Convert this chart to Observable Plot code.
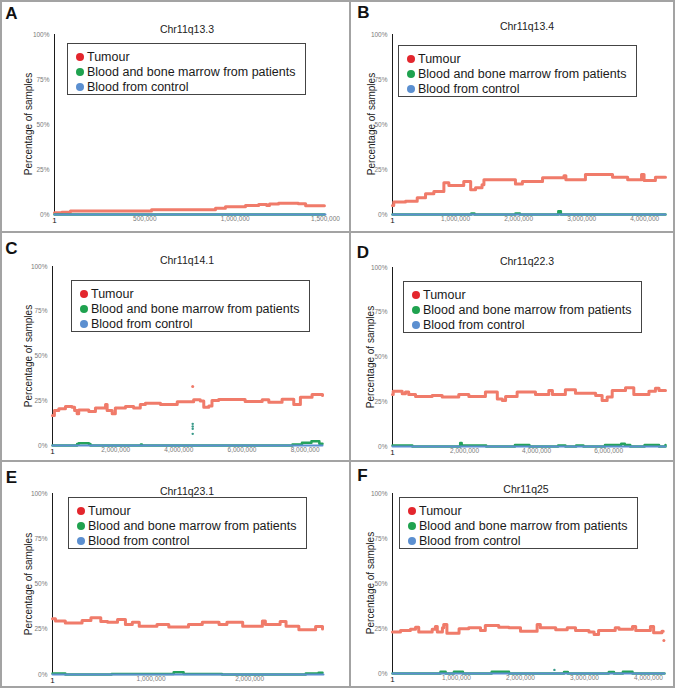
<!DOCTYPE html>
<html>
<head>
<meta charset="utf-8">
<script src="https://cdn.jsdelivr.net/npm/d3@7"></script>
<script src="https://cdn.jsdelivr.net/npm/@observablehq/plot@0.6"></script>
<style>
  body { margin: 0; background: #fff; font-family: "Liberation Sans", Arial, sans-serif; }
  #fig { position: relative; width: 675px; height: 688px; background: #fff; overflow: hidden; }
  .abs { position: absolute; }
  .letter { font-weight: bold; font-size: 17px; color: #111; transform: translate(-50%, -50%); }
  .title { font-size: 10.5px; color: #222; transform: translate(-50%, -50%); white-space: nowrap; }
  .ylab { font-size: 10px; color: #222; transform: translate(-50%, -50%) rotate(-90deg); white-space: nowrap; }
  .legend { border: 1px solid #444; background: #fff; box-sizing: border-box; width: 239px; height: 52px; }
  .li { position: absolute; left: 0; font-size: 12.5px; color: #1a1a1a; white-space: nowrap; }
  .li span.dot { position: absolute; left: 8px; width: 8px; height: 8px; border-radius: 50%; top: 50%; transform: translateY(-50%); }
  .li span.txt { position: absolute; left: 19px; top: 50%; transform: translateY(-52%); }
</style>
</head>
<body>
<div id="fig"></div>
<script>
// ---------- data ----------
const panelLetters = ["A", "B", "C", "D", "E", "F"];
const panelTitles = ["Chr11q13.3", "Chr11q13.4", "Chr11q14.1", "Chr11q22.3", "Chr11q23.1", "Chr11q25"];
const legendLabels = ["Tumour", "Blood and bone marrow from patients", "Blood from control"];
const yTicks = [0, 25, 50, 75, 100];
const xMaxes = [1500000, 4330000, 8550000, 7580000, 2750000, 4250000];
const xTicksA = [500000, 1000000, 1500000];
const xTicksB = [1000000, 2000000, 3000000, 4000000];
const xTicksC = [2000000, 4000000, 6000000, 8000000];
const xTicksD = [2000000, 4000000, 6000000];
const xTicksE = [1000000, 2000000];
const xTicksF = [1000000, 2000000, 3000000, 4000000];

// Panel A
const tumourPosA = [1, 40000, 88000, 537000, 891000, 946000, 1057000, 1130000, 1175000, 1190000, 1240000, 1350000, 1390000, 1494000];
const tumourPctA = [1.0, 1.3, 2.0, 2.7, 3.5, 4.3, 5.0, 5.6, 5.0, 5.8, 6.3, 6.0, 4.8, 4.8];
const bloodPosA = [1, 1494000];
const bloodPctA = [0, 0];

// Panel B
const tumourPosB = [1, 20000, 206000, 392000, 524000, 656000, 815000, 894000, 1130000, 1240000, 1317000, 1420000, 1450000, 1950000, 2060000, 2380000, 2720000, 2750000, 3060000, 3490000, 3730000, 3950000, 3990000, 4170000, 4330000];
const tumourPctB = [5.0, 6.9, 7.4, 9.3, 11.5, 12.8, 17.6, 16.1, 18.3, 13.7, 14.8, 16.5, 19.3, 17.0, 18.3, 20.4, 21.5, 19.3, 22.2, 20.7, 19.3, 22.2, 18.9, 20.7, 20.7];
const bloodPosB = [1, 1250000, 1300000, 1950000, 2020000, 2630000, 2670000, 4330000];
const bloodPctB = [0, 0.5, 0, 0.5, 0, 1.8, 0, 0];

// Panel C
const tumourPosC = [1, 60000, 200000, 410000, 620000, 700000, 780000, 830000, 1150000, 1360000, 1680000, 1730000, 1890000, 1990000, 2310000, 2570000, 2780000, 2940000, 3420000, 3950000, 4470000, 4680000, 4790000, 4950000, 5050000, 5260000, 6100000, 6640000, 6850000, 7270000, 7640000, 7850000, 8220000, 8550000];
const tumourPctC = [16.8, 19.6, 20.5, 21.8, 21.4, 19.6, 17.7, 19.9, 19.0, 20.9, 22.9, 19.6, 17.7, 21.0, 21.8, 20.9, 22.9, 23.6, 22.9, 24.4, 25.5, 24.8, 21.4, 22.0, 25.1, 25.7, 24.6, 25.5, 24.2, 25.9, 22.9, 27.0, 28.5, 28.0];
const tumourOutPosC = [4440000];
const tumourOutPctC = [33.0];
const bloodPosC = [1, 780000, 830000, 1150000, 1200000, 2800000, 2830000, 7600000, 7900000, 8200000, 8450000, 8550000];
const bloodPctC = [0, 0.8, 1.2, 0.8, 0, 0.6, 0, 0.5, 1.5, 2.4, 1.0, 1.0];
const bloodOutPosC = [4440000, 4440000, 4440000, 4440000];
const bloodOutPctC = [12.1, 10.6, 9.3, 6.5];

// Panel D
const tumourPosD = [1, 20000, 270000, 360000, 450000, 640000, 1100000, 1380000, 1840000, 2120000, 2580000, 2910000, 3050000, 3140000, 3460000, 3970000, 4340000, 4440000, 4800000, 5080000, 5640000, 5820000, 5960000, 6100000, 6470000, 6700000, 7120000, 7300000, 7400000, 7580000];
const tumourPctD = [29.1, 30.9, 29.4, 30.4, 29.1, 27.9, 28.5, 27.6, 29.1, 27.9, 30.4, 26.6, 25.7, 27.9, 30.4, 29.1, 31.3, 29.1, 31.7, 29.8, 28.5, 25.7, 27.6, 31.3, 32.8, 29.1, 30.9, 32.6, 31.3, 31.3];
const bloodPosD = [1, 550000, 1880000, 1920000, 2600000, 3400000, 3800000, 4600000, 4800000, 5100000, 5300000, 5900000, 6350000, 6450000, 6600000, 7000000, 7400000, 7580000];
const bloodPctD = [0.6, 0, 2.0, 0.6, 0, 0.8, 0, 0.5, 0, 0.5, 0, 0.8, 1.5, 0.8, 0, 0.8, 0, 0.8];

// Panel E
const tumourPosE = [1, 30000, 130000, 300000, 390000, 490000, 560000, 660000, 740000, 810000, 880000, 1060000, 1180000, 1380000, 1520000, 1690000, 1770000, 1930000, 2130000, 2160000, 2310000, 2370000, 2500000, 2670000, 2740000];
const tumourPctE = [30.8, 29.5, 28.5, 29.8, 31.3, 29.3, 28.9, 30.4, 27.6, 28.9, 26.7, 27.6, 26.2, 27.6, 28.9, 27.6, 28.9, 26.7, 29.5, 27.6, 29.3, 26.7, 24.7, 26.5, 25.2];
const bloodPosE = [1, 130000, 600000, 1230000, 1330000, 1720000, 2570000, 2700000, 2740000];
const bloodPctE = [0.5, 0, 0.3, 1.2, 0.3, 0, 0.5, 1.0, 1.0];

// Panel F
const tumourPosF = [1, 125000, 280000, 360000, 410000, 620000, 670000, 700000, 780000, 800000, 850000, 1040000, 1190000, 1375000, 1450000, 1660000, 1820000, 2000000, 2260000, 2310000, 2550000, 2730000, 2860000, 3070000, 3150000, 3220000, 3480000, 3540000, 3750000, 3800000, 4030000, 4080000, 4210000, 4230000];
const tumourPctF = [23.0, 23.9, 24.6, 25.7, 23.0, 24.6, 26.1, 23.0, 25.4, 27.2, 22.4, 24.8, 25.4, 23.9, 26.7, 25.7, 25.4, 23.5, 27.2, 25.4, 24.3, 25.4, 23.9, 23.0, 21.7, 23.9, 25.4, 24.6, 26.1, 23.9, 26.1, 22.6, 23.5, 23.5];
const tumourOutPosF = [4240000];
const tumourOutPctF = [18.4];
const bloodPosF = [1, 750000, 830000, 960000, 1100000, 1550000, 1820000, 2680000, 2740000, 3380000, 3460000, 3600000, 3750000, 4250000];
const bloodPctF = [0, 1.0, 0, 1.0, 0, 1.0, 0, 0.8, 0, 0.8, 0, 1.0, 0, 0];
const bloodOutPosF = [2530000];
const bloodOutPctF = [2.0];

// ---------- layout ----------
const colors = { tumour: "#f07b6a", blood: "#25a25a", control: "#5b8fd0" };
const legendDot = ["#e3262d", "#1fa24f", "#5b8fd0"];

const fig = document.getElementById("fig");
function addDiv(cls, left, top, text, extra) {
  const d = document.createElement("div");
  d.className = "abs " + cls;
  d.style.left = left + "px";
  d.style.top = top + "px";
  if (text != null) d.textContent = text;
  if (extra) Object.assign(d.style, extra);
  fig.appendChild(d);
  return d;
}

// borders
addDiv("", 0, 0, null, { width: "675px", height: "688px", border: "2px solid #a3a3a3", boxSizing: "border-box" });
addDiv("", 349, 0, null, { width: "2px", height: "688px", background: "#a3a3a3" });
addDiv("", 0, 231, null, { width: "675px", height: "2px", background: "#a3a3a3" });
addDiv("", 0, 460, null, { width: "675px", height: "2px", background: "#a3a3a3" });

const panels = [
  { box: [2, 2, 346, 228], frame: [54, 325, 34, 214], xTicks: xTicksA,
    tPos: tumourPosA, tPct: tumourPctA, bPos: bloodPosA, bPct: bloodPctA,
    letter: [11.5, 14], title: [187, 28.5], ylab: [27.5, 124], legend: [67, 43] },
  { box: [351, 2, 322, 228], frame: [392, 665, 34, 214], xTicks: xTicksB,
    tPos: tumourPosB, tPct: tumourPctB, bPos: bloodPosB, bPct: bloodPctB,
    letter: [363.5, 12.5], title: [527, 25.5], ylab: [371, 124], legend: [398, 45] },
  { box: [2, 233, 346, 227], frame: [52, 322, 266, 445], xTicks: xTicksC,
    tPos: tumourPosC, tPct: tumourPctC, bPos: bloodPosC, bPct: bloodPctC,
    tOutPos: tumourOutPosC, tOutPct: tumourOutPctC, bOutPos: bloodOutPosC, bOutPct: bloodOutPctC,
    letter: [11.5, 249], title: [187, 260], ylab: [28, 355.5], legend: [71, 280] },
  { box: [351, 233, 322, 227], frame: [392, 665, 267, 446], xTicks: xTicksD,
    tPos: tumourPosD, tPct: tumourPctD, bPos: bloodPosD, bPct: bloodPctD,
    letter: [363, 253], title: [527, 261], ylab: [370, 356.5], legend: [403, 281] },
  { box: [2, 462, 346, 224], frame: [52, 323, 493, 674], xTicks: xTicksE,
    tPos: tumourPosE, tPct: tumourPctE, bPos: bloodPosE, bPct: bloodPctE,
    letter: [11.5, 477.5], title: [187, 491], ylab: [28, 583.5], legend: [68, 497] },
  { box: [351, 462, 322, 224], frame: [392, 664, 493, 673], xTicks: xTicksF,
    tPos: tumourPosF, tPct: tumourPctF, bPos: bloodPosF, bPct: bloodPctF,
    tOutPos: tumourOutPosF, tOutPct: tumourOutPctF, bOutPos: bloodOutPosF, bOutPct: bloodOutPctF,
    letter: [362.5, 476], title: [526, 489], ylab: [370, 583], legend: [399, 497] }
];

const fmt = d3.format(",");

panels.forEach((p, i) => {
  const [bl, bt, bw, bh] = p.box;
  const [fx0, fx1, fy0, fy1] = p.frame;
  const xMax = xMaxes[i];
  const marks = [
    Plot.axisY(yTicks, { tickSize: 0, tickPadding: 5, tickFormat: d => d + "%", fontSize: 6.5, label: null }),
    Plot.axisX(p.xTicks, { tickSize: 0, tickPadding: 2, tickFormat: d => fmt(d), fontSize: 6.5, label: null }),
    Plot.axisX([1], { tickSize: 0, tickPadding: 3, tickFormat: () => "1", fontSize: 8, fill: "#111", label: null }),
    Plot.ruleX([0], { stroke: "#1a1a1a", strokeWidth: 1 }),
    Plot.line(p.tPos, { x: p.tPos, y: p.tPct, curve: "step-after", stroke: colors.tumour, strokeWidth: 3 }),
    Plot.line(p.bPos, { x: p.bPos, y: p.bPct, curve: "step-after", stroke: colors.blood, strokeWidth: 2.5 }),
    Plot.line([1, xMax], { x: [1, xMax], y: [0, 0], stroke: colors.control, strokeWidth: 2 })
  ];
  if (p.tOutPos) marks.push(Plot.dot(p.tOutPos, { x: p.tOutPos, y: p.tOutPct, r: 1.5, fill: colors.tumour }));
  if (p.bOutPos) marks.push(Plot.dot(p.bOutPos, { x: p.bOutPos, y: p.bOutPct, r: 1.2, fill: "#3a9a8a" }));

  const svg = Plot.plot({
    width: bw, height: bh,
    marginLeft: fx0 - bl, marginRight: (bl + bw) - fx1,
    marginTop: fy0 - bt, marginBottom: (bt + bh) - fy1,
    x: { type: "linear", domain: [0, xMax] },
    y: { type: "linear", domain: [0, 100] },
    style: { background: "transparent", color: "#7a7a7a", fontFamily: "Liberation Sans, Arial, sans-serif", overflow: "visible" },
    marks
  });
  svg.style.position = "absolute";
  svg.style.left = bl + "px";
  svg.style.top = bt + "px";
  fig.appendChild(svg);

  addDiv("letter", p.letter[0], p.letter[1], panelLetters[i]);
  addDiv("title", p.title[0], p.title[1], panelTitles[i]);
  addDiv("ylab", p.ylab[0], p.ylab[1], "Percentage of samples");

  const lg = addDiv("legend", p.legend[0], p.legend[1], null);
  legendLabels.forEach((lab, k) => {
    const row = document.createElement("div");
    row.className = "li";
    row.style.top = (5 + k * 15) + "px";
    row.style.height = "15px";
    row.style.width = "100%";
    const dot = document.createElement("span");
    dot.className = "dot";
    dot.style.background = legendDot[k];
    const txt = document.createElement("span");
    txt.className = "txt";
    txt.textContent = lab;
    row.appendChild(dot);
    row.appendChild(txt);
    lg.appendChild(row);
  });
});
</script>
</body>
</html>
